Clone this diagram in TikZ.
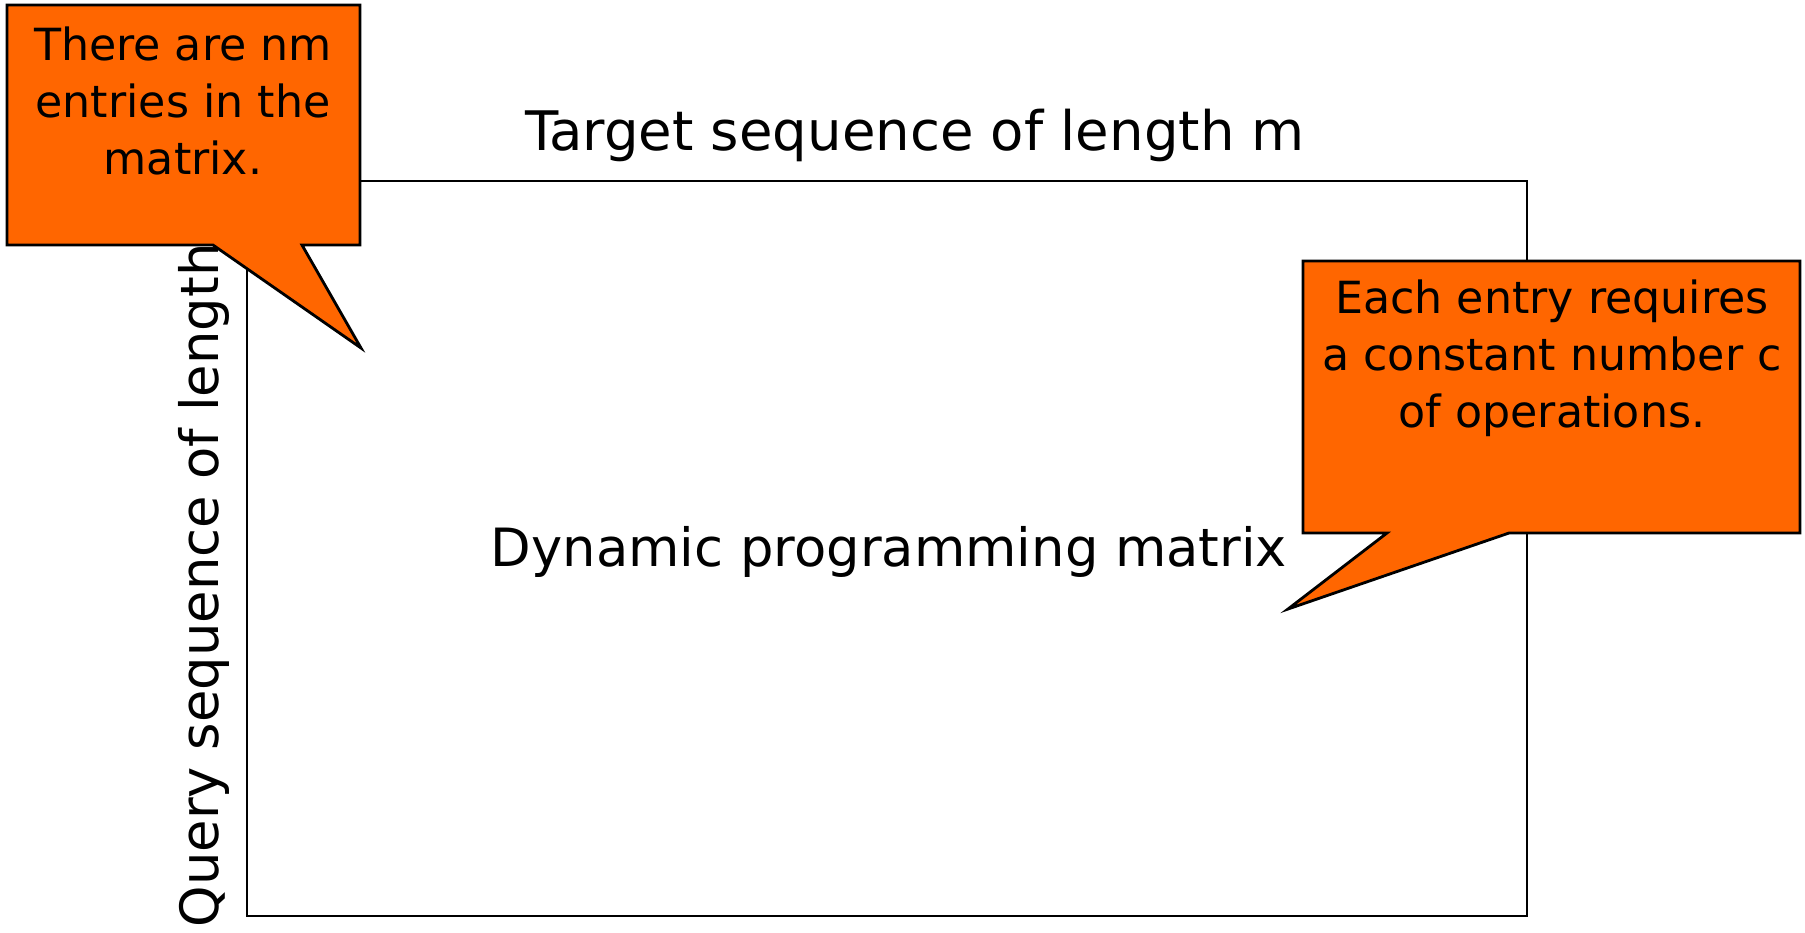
\documentclass[tikz,border=0pt]{standalone}
\usepackage{fontspec}
\setmainfont{DejaVu Sans}
\definecolor{calloutorange}{HTML}{FF6600}

\begin{document}
\begin{tikzpicture}[x=0.01cm,y=-0.01cm]

    \tikzset{
      label/.style={
        inner sep=0pt,
        font=\fontsize{15}{18}\selectfont,
      },
      callout/.style={
        draw=black,
        line width=0.8pt,
        fill=calloutorange,
        line join=miter,
      },
      callouttext/.style={
        inner sep=0pt,
        align=center,
        font=\fontsize{12.6}{16.2}\selectfont,
      },
    }
    \useasboundingbox (0,0) rectangle (1805,932);

	% the matrix
	\draw[line width=0.5pt] (247,181) rectangle (1527,916);
	\node[label,font=\fontsize{15.5}{18}\selectfont] (target) at (915,135) {Target sequence of length m};
	\node[label] (dpm) at (889,552) {Dynamic programming matrix};
	\node[label,rotate=90,anchor=west] (query) at (204,928) {Query sequence of length};

	% callouts
	\draw[callout] (7,5)--(360,5)--(360,245)--(302,245)--(361,348)--(213,245)--(7,245)--cycle;
	\node[callouttext] (nm) at (183,101) {There are nm\\entries in the\\matrix.};

	\draw[callout] (1303,261)--(1800,261)--(1800,533)--(1509,533)--(1288,609)--(1387,533)--(1303,533)--cycle;
	\node[callouttext] (ops) at (1552,358) {Each entry requires\\a constant number c\\of operations.};

\end{tikzpicture}
\end{document}
